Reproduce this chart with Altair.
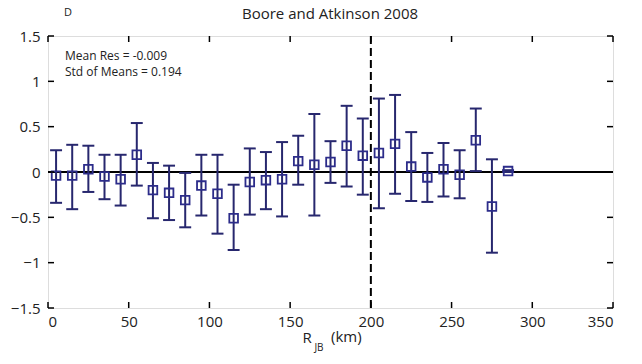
import altair as alt
import pandas as pd

# ---- data ----
r_jb = [5, 15, 25, 35, 45, 55, 65, 75, 85, 95, 105, 115, 125, 135, 145,
        155, 165, 175, 185, 195, 205, 215, 225, 235, 245, 255, 265, 275, 285]
mean_res = [-0.04, -0.04, 0.03, -0.05, -0.08, 0.19, -0.20, -0.23, -0.31, -0.15,
            -0.24, -0.51, -0.11, -0.09, -0.08, 0.12, 0.08, 0.11, 0.29, 0.18,
            0.21, 0.31, 0.06, -0.06, 0.03, -0.03, 0.35, -0.38, 0.01]
upper = [0.24, 0.30, 0.29, 0.19, 0.19, 0.54, 0.10, 0.07, -0.01, 0.19,
         0.19, -0.14, 0.26, 0.22, 0.33, 0.40, 0.64, 0.34, 0.73, 0.59,
         0.81, 0.85, 0.44, 0.21, 0.32, 0.24, 0.70, 0.14, 0.02]
lower = [-0.34, -0.41, -0.22, -0.30, -0.37, -0.15, -0.51, -0.53, -0.61, -0.48,
         -0.68, -0.86, -0.47, -0.41, -0.49, -0.14, -0.48, -0.12, -0.16, -0.25,
         -0.40, -0.24, -0.32, -0.33, -0.27, -0.29, 0.01, -0.89, 0.00]

x_ticks = [0, 50, 100, 150, 200, 250, 300, 350]
y_ticks = [-1.5, -1, -0.5, 0, 0.5, 1, 1.5]
cutoff = [200]

title_text = "Boore and Atkinson 2008"
panel_label = "D"
stats_lines = ["Mean Res = -0.009", "Std of Means = 0.194"]

FONT = "Open Sans"
NAVY = "#27276e"
MARK = "#2c2c8a"

df = pd.DataFrame({"r": r_jb, "m": mean_res, "lo": lower, "hi": upper})
xt = pd.DataFrame({"v": x_ticks})
yt = pd.DataFrame({"v": y_ticks})

W, H = 565, 272
xs = alt.Scale(domain=[0, 350], nice=False, zero=False)
ys = alt.Scale(domain=[-1.5, 1.5], nice=False, zero=False)

x_axis = alt.Axis(values=x_ticks, title=None, ticks=False,
                  domain=False, grid=False, labelFont=FONT, labelFontSize=15,
                  labelColor="#222", labelPadding=6)
y_axis = alt.Axis(values=y_ticks, title=None, ticks=False, domain=False, grid=False,
                  labelFont=FONT, labelFontSize=15, labelColor="#222", labelPadding=8,
                  labelExpr="datum.value == 0 ? '0' : format(datum.value, '')")

base = alt.Chart(df)

bars = base.mark_rule(color=NAVY, strokeWidth=2).encode(
    x=alt.X("r:Q", scale=xs, axis=x_axis),
    y=alt.Y("lo:Q", scale=ys, axis=y_axis),
    y2="hi:Q",
)
caps_hi = base.transform_calculate(a="datum.r - 3.7", b="datum.r + 3.7").mark_rule(
    color=NAVY, strokeWidth=2).encode(x="a:Q", x2="b:Q", y="hi:Q")
caps_lo = base.transform_calculate(a="datum.r - 3.7", b="datum.r + 3.7").mark_rule(
    color=NAVY, strokeWidth=2).encode(x="a:Q", x2="b:Q", y="lo:Q")

zero = alt.Chart(pd.DataFrame({"z": [0]})).mark_rule(color="black", strokeWidth=2).encode(
    y="z:Q")
vline = alt.Chart(pd.DataFrame({"c": cutoff})).mark_rule(
    color="black", strokeWidth=2, strokeDash=[8, 4]).encode(x="c:Q")

points = base.mark_point(shape="square", size=75, filled=False, color=MARK,
                         strokeWidth=1.8, opacity=1).encode(x="r:Q", y="m:Q")

# inward ticks on all four sides
tick_len_y = 6 / H * 3.0
tick_len_x = 6 / W * 350
bt = alt.Chart(xt).transform_calculate(a="-1.5", b=f"-1.5 + {tick_len_y}").mark_rule(
    color="black", strokeWidth=1.5).encode(x="v:Q", y="a:Q", y2="b:Q")
tt = alt.Chart(xt).transform_calculate(a="1.5", b=f"1.5 - {tick_len_y}").mark_rule(
    color="black", strokeWidth=1.5).encode(x="v:Q", y="a:Q", y2="b:Q")
lt = alt.Chart(yt).transform_calculate(a="0", b=f"{tick_len_x}").mark_rule(
    color="black", strokeWidth=1.5).encode(y="v:Q", x="a:Q", x2="b:Q")
rt = alt.Chart(yt).transform_calculate(a="350", b=f"350 - {tick_len_x}").mark_rule(
    color="black", strokeWidth=1.5).encode(y="v:Q", x="a:Q", x2="b:Q")

# texts
title = alt.Chart(pd.DataFrame({"t": [title_text]})).mark_text(
    font=FONT, fontSize=15, color="#222", align="center", baseline="middle").encode(
    text="t:N", x=alt.value(282), y=alt.value(-22))
dlab = alt.Chart(pd.DataFrame({"t": [panel_label]})).mark_text(
    font=FONT, fontSize=11, color="#222", align="center", baseline="middle").encode(
    text="t:N", x=alt.value(20), y=alt.value(-23))
stats = alt.Chart(pd.DataFrame({"t": stats_lines, "i": [0, 1]})).transform_calculate(
    yy="20 + datum.i * 16").mark_text(
    font=FONT, fontSize=12, color="#222", align="left", baseline="middle").encode(
    text="t:N", x=alt.value(17), y=alt.Y("yy:Q", scale=None))
xr = alt.Chart(pd.DataFrame({"t": ["R"]})).mark_text(
    font=FONT, fontSize=15, color="#222", align="center", baseline="middle").encode(
    text="t:N", x=alt.value(259), y=alt.value(H + 30))
xsub = alt.Chart(pd.DataFrame({"t": ["JB"]})).mark_text(
    font=FONT, fontSize=10, color="#222", align="center", baseline="middle").encode(
    text="t:N", x=alt.value(271), y=alt.value(H + 40))
xkm = alt.Chart(pd.DataFrame({"t": ["(km)"]})).mark_text(
    font=FONT, fontSize=15, color="#222", align="left", baseline="middle").encode(
    text="t:N", x=alt.value(283), y=alt.value(H + 29))

chart = alt.layer(
    vline, zero, bars, caps_hi, caps_lo, points, bt, tt, lt, rt,
    title, dlab, stats, xr, xsub, xkm
).properties(
    width=W, height=H,
    autosize=alt.AutoSizeParams(type="none"),
    padding={"left": 48, "top": 36, "right": 29, "bottom": 56},
).configure_view(stroke="black", strokeWidth=2).configure(background="white")

chart.save("out.html", embed_options={"renderer": "svg", "actions": False})
